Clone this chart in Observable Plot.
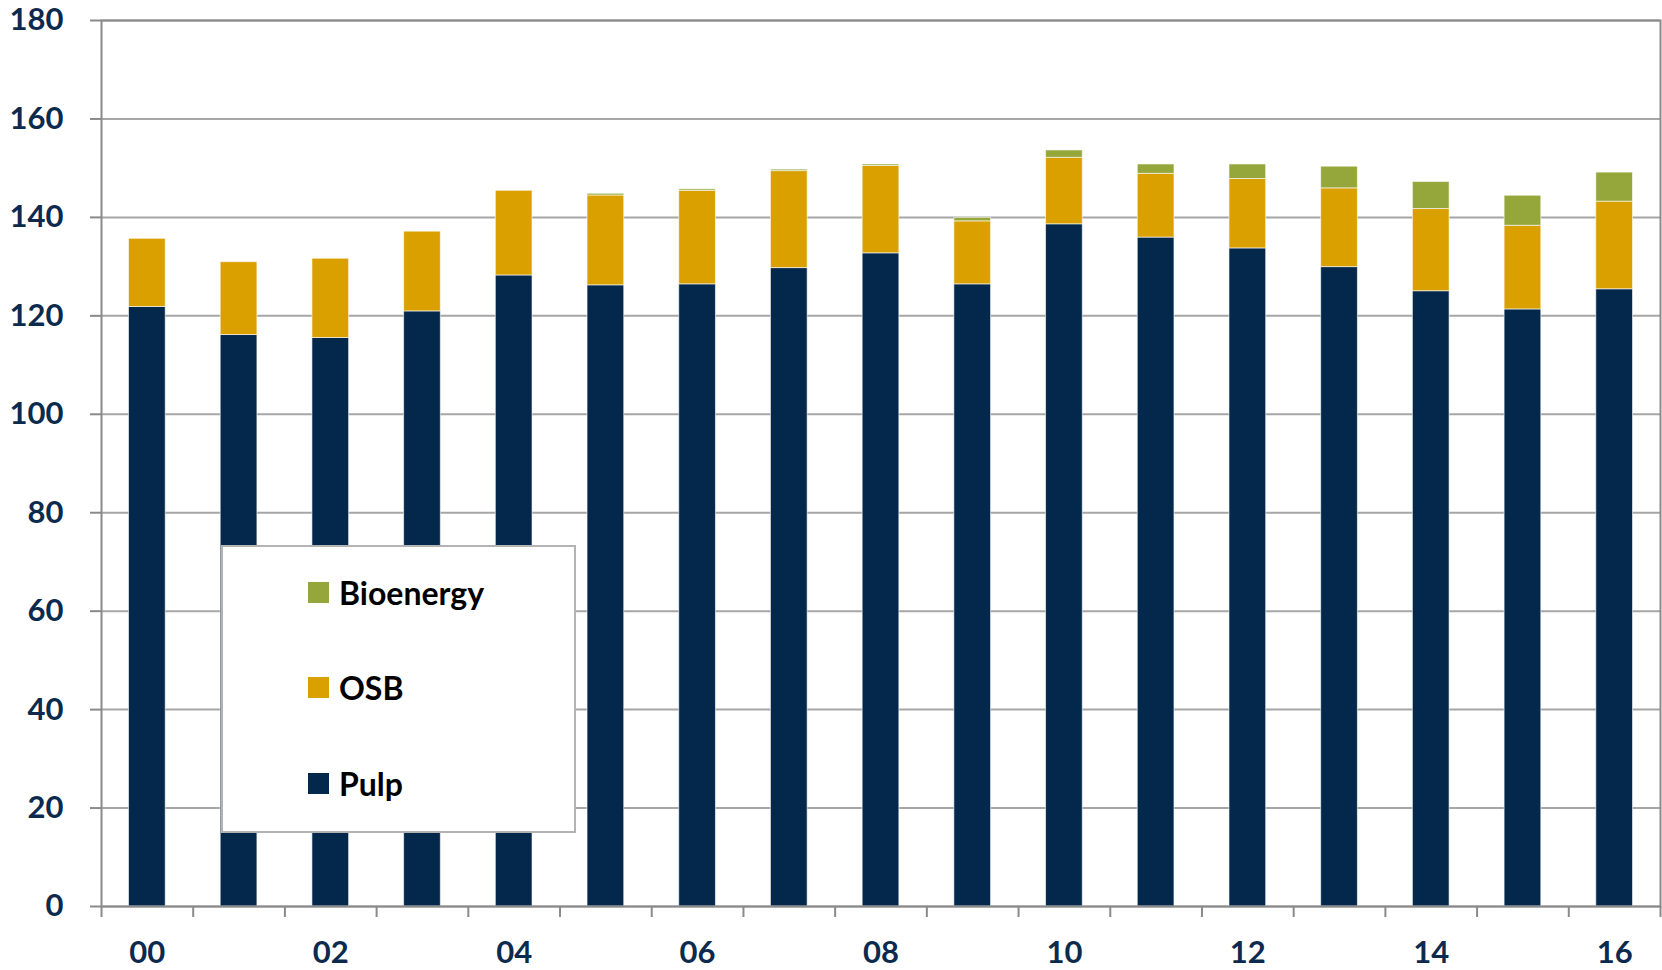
<!DOCTYPE html>
<html>
<head>
<meta charset="utf-8">
<script src="https://cdn.jsdelivr.net/npm/d3@7"></script>
<script src="https://cdn.jsdelivr.net/npm/@observablehq/plot@0.6"></script>
<style>
  html, body { margin: 0; padding: 0; background: #fff; }
  #wrap { position: relative; width: 1662px; height: 970px; overflow: hidden; }
  #legend {
    position: absolute; left: 221px; top: 545px; width: 351px; height: 284px;
    background: #fff; border: 2px solid #b3b3b3;
    font-family: Lato, "Open Sans", sans-serif; font-weight: 700; font-size: 32px; color: #000;
  }
  .item { position: absolute; left: 85px; display: flex; align-items: center; height: 40px; }
  .sw { width: 21px; height: 21px; margin-right: 10px; }
</style>
</head>
<body>
<div id="wrap">
  <div id="chart"></div>
  <div id="legend"></div>
</div>
<script>
const years = [2000, 2001, 2002, 2003, 2004, 2005, 2006, 2007, 2008, 2009, 2010, 2011, 2012, 2013, 2014, 2015, 2016];
const yearLabels = ["00", "01", "02", "03", "04", "05", "06", "07", "08", "09", "10", "11", "12", "13", "14", "15", "16"];
const series = ["Pulp", "OSB", "Bioenergy"];
const pulp = [121.8, 116.1, 115.5, 120.9, 128.2, 126.2, 126.4, 129.7, 132.7, 126.4, 138.6, 135.9, 133.7, 129.9, 125.0, 121.3, 125.4];
const osb = [13.85, 14.8, 16.1, 16.2, 17.2, 18.25, 19.0, 19.7, 17.75, 12.8, 13.5, 12.95, 14.1, 16.0, 16.7, 17.0, 17.8];
const bioenergy = [0, 0, 0, 0, 0, 0.35, 0.3, 0.3, 0.3, 0.7, 1.5, 1.9, 2.95, 4.4, 5.5, 6.1, 5.9];
const yTicks = [0, 20, 40, 60, 80, 100, 120, 140, 160, 180];
const colors = {"Pulp": "#03284b", "OSB": "#daa000", "Bioenergy": "#95a73a"};
const legendOrder = ["Bioenergy", "OSB", "Pulp"];

const values = {"Pulp": pulp, "OSB": osb, "Bioenergy": bioenergy};
const data = [];
years.forEach((yr, i) => series.forEach(s => data.push({year: yr, series: s, value: values[s][i]})));

const navy = "#0b2a4e";
const boundaryTicks = years.concat([years[years.length - 1] + 1]);
const labelYears = years.filter((y, i) => i % 2 === 0);

const chart = Plot.plot({
  width: 1662,
  height: 970,
  marginLeft: 101,
  marginRight: 2,
  marginTop: 20,
  marginBottom: 64,
  style: {fontFamily: "Lato, 'Open Sans', sans-serif", fontWeight: 700, background: "#fff"},
  x: {domain: [years[0], years[years.length - 1] + 1], axis: null},
  y: {domain: [0, 180], axis: null},
  color: {domain: series, range: series.map(s => colors[s])},
  marks: [
    Plot.gridY(yTicks, {stroke: "#a6a6a6", strokeOpacity: 1, strokeWidth: 2}),
    Plot.rectY(data, {
      x: "year", interval: 1, y: "value", fill: "series",
      order: series, insetLeft: 27.5, insetRight: 27.5,
      stroke: "#ffffff", strokeOpacity: 0.6, strokeWidth: 1
    }),
    Plot.frame({stroke: "#8a8a8a", strokeWidth: 2}),
    Plot.axisY({ticks: yTicks, label: null, tickSize: 11, tickPadding: 27, stroke: "#8a8a8a", strokeWidth: 2, fill: navy, fontSize: 31, tickFormat: d => String(d)}),
    Plot.axisX({ticks: boundaryTicks, label: null, tickSize: 11, stroke: "#8a8a8a", strokeWidth: 2, tickFormat: () => ""}),
    Plot.text(labelYears, {
      x: d => d + 0.5, text: d => yearLabels[years.indexOf(d)],
      frameAnchor: "bottom", lineAnchor: "middle", dy: 47, fill: navy, fontSize: 31, fontWeight: 700
    })
  ]
});
document.getElementById("chart").appendChild(chart);

const legend = document.getElementById("legend");
legendOrder.forEach((s, i) => {
  const item = document.createElement("div");
  item.className = "item";
  item.style.top = (25 + i * 95.5) + "px";
  const sw = document.createElement("div");
  sw.className = "sw";
  sw.style.background = colors[s];
  const t = document.createElement("span");
  t.textContent = s;
  item.appendChild(sw);
  item.appendChild(t);
  legend.appendChild(item);
});
</script>
</body>
</html>
